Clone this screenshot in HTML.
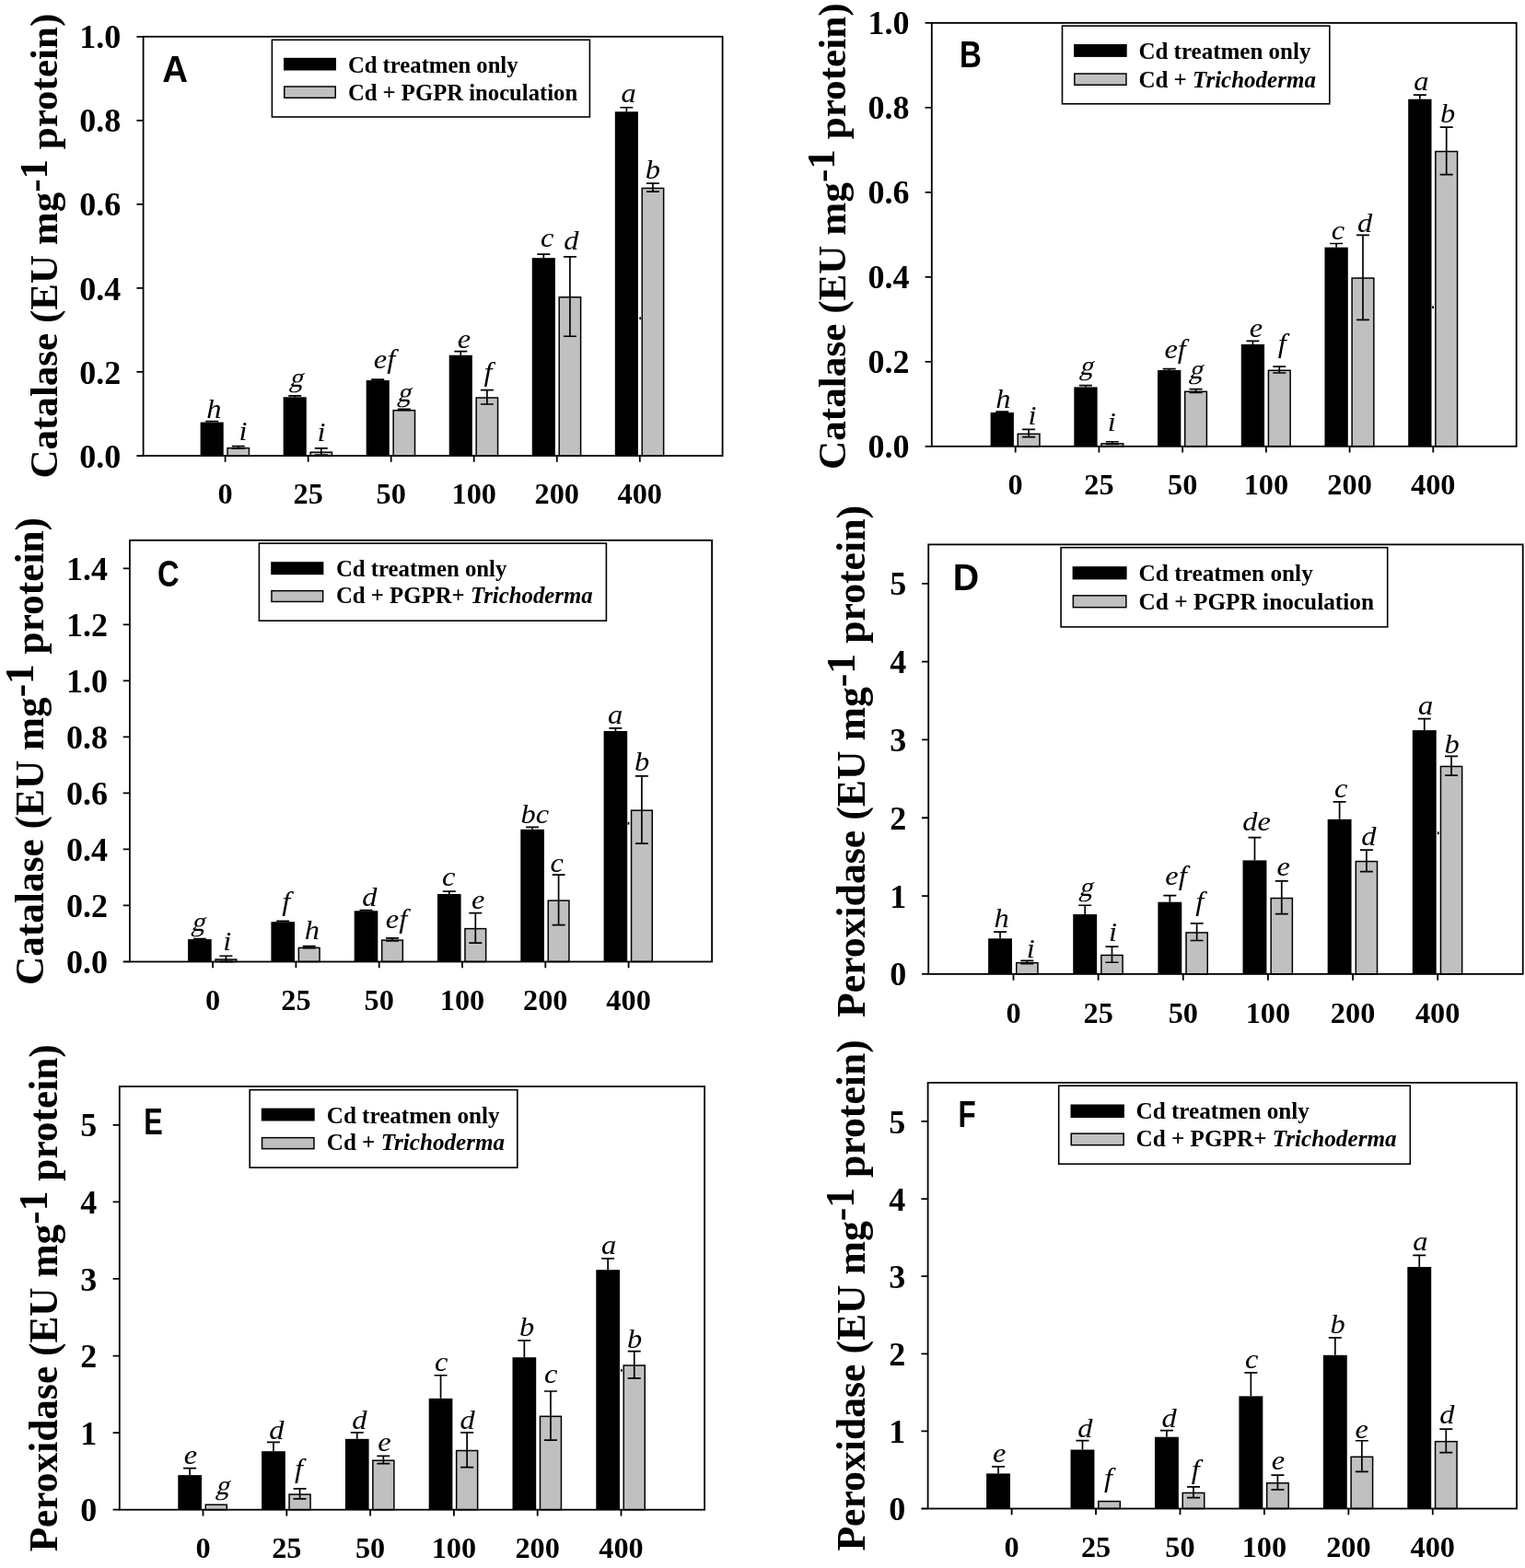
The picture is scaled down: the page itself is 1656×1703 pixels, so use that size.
<!DOCTYPE html>
<html><head><meta charset="utf-8"><title>Catalase and peroxidase activity under Cd treatment</title>
<style>html,body{margin:0;padding:0;background:#fff;overflow:hidden}svg{display:block}</style></head>
<body>
<svg width="1656" height="1703" viewBox="0 0 1656 1703" font-family='"Liberation Serif", "Times New Roman", serif' font-weight="bold" font-size="36.0" fill="#000">
<rect width="1656" height="1703" fill="#fff"/>
<g>
<rect x="217.6" y="458.58" width="25.1" height="36.42"/>
<rect x="247.05" y="486.65" width="23.4" height="8.35" fill="#c0c0c0" stroke="#000" stroke-width="1.5"/>
<rect x="307.64" y="431.27" width="25.1" height="63.73"/>
<rect x="337.09" y="491.2" width="23.4" height="3.8" fill="#c0c0c0" stroke="#000" stroke-width="1.5"/>
<rect x="397.68" y="413.06" width="25.1" height="81.94"/>
<rect x="427.13" y="445.68" width="23.4" height="49.32" fill="#c0c0c0" stroke="#000" stroke-width="1.5"/>
<rect x="487.72" y="385.75" width="25.1" height="109.25"/>
<rect x="517.17" y="432.02" width="23.4" height="62.98" fill="#c0c0c0" stroke="#000" stroke-width="1.5"/>
<rect x="577.76" y="280.15" width="25.1" height="214.85"/>
<rect x="607.21" y="322.77" width="23.4" height="172.23" fill="#c0c0c0" stroke="#000" stroke-width="1.5"/>
<rect x="667.8" y="121.28" width="25.1" height="373.72"/>
<rect x="697.25" y="204.42" width="23.4" height="290.58" fill="#c0c0c0" stroke="#000" stroke-width="1.5"/>
<rect x="694.3" y="344.3" width="1.8" height="2.8"/>
<path d="M230.15 458.58V457.67M223.15 457.67H237.15M258.75 487.26V484.53M251.75 484.53H265.75M251.75 487.26H265.75M320.19 431.27V429.91M313.19 429.91H327.19M348.79 494.09V486.81M341.79 486.81H355.79M341.79 494.09H355.79M410.23 413.06V412.15M403.23 412.15H417.23M438.83 445.38V444.47M431.83 444.47H445.83M431.83 445.38H445.83M500.27 385.75V381.66M493.27 381.66H507.27M528.87 439.01V423.53M521.87 423.53H535.87M521.87 439.01H535.87M590.31 280.15V276.05M583.31 276.05H597.31M618.91 365.27V278.78M611.91 278.78H625.91M611.91 365.27H625.91M680.35 121.28V116.73M673.35 116.73H687.35M708.95 208.22V199.12M701.95 199.12H715.95M701.95 208.22H715.95" stroke="#000" stroke-width="1.7" fill="none"/>
<text transform="translate(224.14 454.13) scale(1.1 1)" font-size="29.5" font-style="italic" font-weight="normal">h</text>
<text transform="translate(313.65 419.57) skewX(-15)" font-size="29.5" font-weight="normal">g</text>
<text transform="translate(405.73 400.38) scale(1.1 1)" font-size="29.5" font-style="italic" font-weight="normal">ef</text>
<text transform="translate(496.85 377.54) scale(1.1 1)" font-size="29.5" font-style="italic" font-weight="normal">e</text>
<text transform="translate(586.94 268.29) scale(1.1 1)" font-size="29.5" font-style="italic" font-weight="normal">c</text>
<text transform="translate(674.45 110.69) scale(1.1 1)" font-size="29.5" font-style="italic" font-weight="normal">a</text>
<text transform="translate(259.57 478.24) scale(1.1 1)" font-size="29.5" font-style="italic" font-weight="normal">i</text>
<text transform="translate(344.62 479.24) scale(1.1 1)" font-size="29.5" font-style="italic" font-weight="normal">i</text>
<text transform="translate(431 436.32) skewX(-15)" font-size="29.5" font-weight="normal">g</text>
<text transform="translate(525.41 414.23) scale(1.1 1)" font-size="29.5" font-style="italic" font-weight="normal">f</text>
<text transform="translate(612.2 270.93) scale(1.1 1)" font-size="29.5" font-style="italic" font-weight="normal">d</text>
<text transform="translate(700.78 194.38) scale(1.1 1)" font-size="29.5" font-style="italic" font-weight="normal">b</text>
<rect x="155.6" y="39.8" width="629" height="455.2" fill="none" stroke="#000" stroke-width="1.8"/>
<path d="M148.4 495H155.6M148.4 403.96H155.6M148.4 312.92H155.6M148.4 221.88H155.6M148.4 130.84H155.6M148.4 39.8H155.6M244.6 495V501.8M334.64 495V501.8M424.68 495V501.8M514.72 495V501.8M604.76 495V501.8M694.8 495V501.8" stroke="#000" stroke-width="1.8" fill="none"/>
<text x="131.37" y="507.59" text-anchor="end">0.0</text>
<text x="131.37" y="416.55" text-anchor="end">0.2</text>
<text x="131.37" y="325.51" text-anchor="end">0.4</text>
<text x="131.37" y="234.47" text-anchor="end">0.6</text>
<text x="131.37" y="143.43" text-anchor="end">0.8</text>
<text x="131.37" y="52.39" text-anchor="end">1.0</text>
<text x="244.6" y="547.2" font-size="32.3" text-anchor="middle">0</text>
<text x="334.64" y="547.2" font-size="32.3" text-anchor="middle">25</text>
<text x="424.68" y="547.2" font-size="32.3" text-anchor="middle">50</text>
<text x="514.72" y="547.2" font-size="32.3" text-anchor="middle">100</text>
<text x="604.76" y="547.2" font-size="32.3" text-anchor="middle">200</text>
<text x="694.8" y="547.2" font-size="32.3" text-anchor="middle">400</text>
<rect x="295.4" y="43.3" width="345" height="83.7" fill="#fff" stroke="#000" stroke-width="1.6"/>
<rect x="308" y="62.8" width="57" height="13.7"/>
<rect x="308.75" y="94.05" width="55.5" height="12.2" fill="#c0c0c0" stroke="#000" stroke-width="1.5"/>
<text x="377.89" y="78.9" font-size="24.7">Cd treatmen only</text>
<text x="377.89" y="108.9" font-size="24.7" xml:space="preserve">Cd + PGPR inoculation</text>
<text transform="translate(176.24 88.5) scale(0.95 1)" font-family='"Liberation Sans", Arial, sans-serif' font-size="40.55">A</text>
<text transform="translate(62.3 519.55) rotate(-90)" font-size="43.04" xml:space="preserve">Catalase (EU mg<tspan dy="-11.41">-1</tspan><tspan dy="11.41"> protein)</tspan></text>
</g>
<g>
<rect x="1075.6" y="448.01" width="25.3" height="36.79"/>
<rect x="1105.25" y="471.29" width="23.7" height="13.51" fill="#c0c0c0" stroke="#000" stroke-width="1.5"/>
<rect x="1166.32" y="420.41" width="25.3" height="64.39"/>
<rect x="1195.97" y="481.87" width="23.7" height="2.93" fill="#c0c0c0" stroke="#000" stroke-width="1.5"/>
<rect x="1257.04" y="402.02" width="25.3" height="82.78"/>
<rect x="1286.69" y="425.3" width="23.7" height="59.5" fill="#c0c0c0" stroke="#000" stroke-width="1.5"/>
<rect x="1347.76" y="373.96" width="25.3" height="110.84"/>
<rect x="1377.41" y="402.31" width="23.7" height="82.49" fill="#c0c0c0" stroke="#000" stroke-width="1.5"/>
<rect x="1438.48" y="268.65" width="25.3" height="216.15"/>
<rect x="1468.13" y="302.05" width="23.7" height="182.75" fill="#c0c0c0" stroke="#000" stroke-width="1.5"/>
<rect x="1529.2" y="107.68" width="25.3" height="377.12"/>
<rect x="1558.85" y="164.54" width="23.7" height="320.26" fill="#c0c0c0" stroke="#000" stroke-width="1.5"/>
<rect x="1555.2" y="332.3" width="1.8" height="2.8"/>
<path d="M1088.25 448.01V447.09M1081.25 447.09H1095.25M1117.1 474.68V466.4M1110.1 466.4H1124.1M1110.1 474.68H1124.1M1178.97 420.41V418.57M1171.97 418.57H1185.97M1207.82 482.5V479.74M1200.82 479.74H1214.82M1200.82 482.5H1214.82M1269.69 402.02V400.64M1262.69 400.64H1276.69M1298.54 426.39V422.71M1291.54 422.71H1305.54M1291.54 426.39H1305.54M1360.41 373.96V370.28M1353.41 370.28H1367.41M1389.26 405.01V398.11M1382.26 398.11H1396.26M1382.26 405.01H1396.26M1451.13 268.65V264.51M1444.13 264.51H1458.13M1479.98 347.29V255.31M1472.98 255.31H1486.98M1472.98 347.29H1486.98M1541.85 107.68V103.08M1534.85 103.08H1548.85M1570.7 189.54V138.04M1563.7 138.04H1577.7M1563.7 189.54H1577.7" stroke="#000" stroke-width="1.7" fill="none"/>
<text transform="translate(1081.19 443.18) scale(1.1 1)" font-size="29.5" font-style="italic" font-weight="normal">h</text>
<text transform="translate(1171.85 407.23) skewX(-15)" font-size="29.5" font-weight="normal">g</text>
<text transform="translate(1264.38 389.18) scale(1.1 1)" font-size="29.5" font-style="italic" font-weight="normal">ef</text>
<text transform="translate(1356.85 365.69) scale(1.1 1)" font-size="29.5" font-style="italic" font-weight="normal">e</text>
<text transform="translate(1445.64 259.79) scale(1.1 1)" font-size="29.5" font-style="italic" font-weight="normal">c</text>
<text transform="translate(1535.25 97.69) scale(1.1 1)" font-size="29.5" font-style="italic" font-weight="normal">a</text>
<text transform="translate(1116.42 461.24) scale(1.1 1)" font-size="29.5" font-style="italic" font-weight="normal">i</text>
<text transform="translate(1202.77 468.24) scale(1.1 1)" font-size="29.5" font-style="italic" font-weight="normal">i</text>
<text transform="translate(1290.7 411.18) skewX(-15)" font-size="29.5" font-weight="normal">g</text>
<text transform="translate(1387.66 383.48) scale(1.1 1)" font-size="29.5" font-style="italic" font-weight="normal">f</text>
<text transform="translate(1474.05 251.73) scale(1.1 1)" font-size="29.5" font-style="italic" font-weight="normal">d</text>
<text transform="translate(1564.03 133.13) scale(1.1 1)" font-size="29.5" font-style="italic" font-weight="normal">b</text>
<rect x="1011.8" y="24.9" width="634.9" height="459.9" fill="none" stroke="#000" stroke-width="1.8"/>
<path d="M1004.6 484.8H1011.8M1004.6 392.82H1011.8M1004.6 300.84H1011.8M1004.6 208.86H1011.8M1004.6 116.88H1011.8M1004.6 24.9H1011.8M1102.7 484.8V491.6M1193.42 484.8V491.6M1284.14 484.8V491.6M1374.86 484.8V491.6M1465.58 484.8V491.6M1556.3 484.8V491.6" stroke="#000" stroke-width="1.8" fill="none"/>
<text x="987.47" y="497.39" text-anchor="end">0.0</text>
<text x="987.47" y="405.41" text-anchor="end">0.2</text>
<text x="987.47" y="313.43" text-anchor="end">0.4</text>
<text x="987.47" y="221.45" text-anchor="end">0.6</text>
<text x="987.47" y="129.47" text-anchor="end">0.8</text>
<text x="987.47" y="37.49" text-anchor="end">1.0</text>
<text x="1102.7" y="537" font-size="32.3" text-anchor="middle">0</text>
<text x="1193.42" y="537" font-size="32.3" text-anchor="middle">25</text>
<text x="1284.14" y="537" font-size="32.3" text-anchor="middle">50</text>
<text x="1374.86" y="537" font-size="32.3" text-anchor="middle">100</text>
<text x="1465.58" y="537" font-size="32.3" text-anchor="middle">200</text>
<text x="1556.3" y="537" font-size="32.3" text-anchor="middle">400</text>
<rect x="1153.5" y="28.1" width="290.3" height="84.7" fill="#fff" stroke="#000" stroke-width="1.6"/>
<rect x="1166.1" y="48" width="57.6" height="13.9"/>
<rect x="1166.85" y="80.05" width="56.1" height="12.2" fill="#c0c0c0" stroke="#000" stroke-width="1.5"/>
<text x="1236.38" y="63.9" font-size="25.0">Cd treatmen only</text>
<text x="1236.38" y="94.8" font-size="25.0" xml:space="preserve">Cd + <tspan font-style="italic">Trichoderma</tspan></text>
<text transform="translate(1041.98 72.6) scale(0.82 1)" font-family='"Liberation Sans", Arial, sans-serif' font-size="40.41">B</text>
<text transform="translate(917.5 509.96) rotate(-90)" font-size="43.2" xml:space="preserve">Catalase (EU mg<tspan dy="-11.45">-1</tspan><tspan dy="11.45"> protein)</tspan></text>
</g>
<g>
<rect x="204.1" y="1020.09" width="25.6" height="24.41"/>
<rect x="234.05" y="1042.05" width="22.7" height="2.45" fill="#c0c0c0" stroke="#000" stroke-width="1.5"/>
<rect x="294.4" y="1001.17" width="25.6" height="43.33"/>
<rect x="324.35" y="1029.38" width="22.7" height="15.12" fill="#c0c0c0" stroke="#000" stroke-width="1.5"/>
<rect x="384.7" y="989.27" width="25.6" height="55.23"/>
<rect x="414.65" y="1021.14" width="22.7" height="23.36" fill="#c0c0c0" stroke="#000" stroke-width="1.5"/>
<rect x="475" y="970.96" width="25.6" height="73.54"/>
<rect x="504.95" y="1008.63" width="22.7" height="35.87" fill="#c0c0c0" stroke="#000" stroke-width="1.5"/>
<rect x="565.3" y="900.78" width="25.6" height="143.72"/>
<rect x="595.25" y="978.12" width="22.7" height="66.38" fill="#c0c0c0" stroke="#000" stroke-width="1.5"/>
<rect x="655.6" y="793.99" width="25.6" height="250.51"/>
<rect x="685.55" y="880.17" width="22.7" height="164.33" fill="#c0c0c0" stroke="#000" stroke-width="1.5"/>
<rect x="681.6" y="892.8" width="1.8" height="2.8"/>
<path d="M216.9 1020.09V1019.48M209.9 1019.48H223.9M245.4 1044.35V1038.24M238.4 1038.24H252.4M238.4 1044.35H252.4M307.2 1001.17V1000.26M300.2 1000.26H314.2M335.7 1029.55V1027.72M328.7 1027.72H342.7M328.7 1029.55H342.7M397.5 989.27V988.66M390.5 988.66H404.5M426 1021.92V1018.87M419 1018.87H433M419 1021.92H433M487.8 970.96V968.22M480.8 968.22H494.8M516.3 1024.06V991.71M509.3 991.71H523.3M509.3 1024.06H523.3M578.1 900.78V898.34M571.1 898.34H585.1M606.6 1004.53V950.21M599.6 950.21H613.6M599.6 1004.53H613.6M668.4 793.99V790.93M661.4 790.93H675.4M696.9 916.04V842.81M689.9 842.81H703.9M689.9 916.04H703.9" stroke="#000" stroke-width="1.7" fill="none"/>
<text transform="translate(207.3 1011.02) skewX(-15)" font-size="29.5" font-weight="normal">g</text>
<text transform="translate(306.26 989.28) scale(1.1 1)" font-size="29.5" font-style="italic" font-weight="normal">f</text>
<text transform="translate(393.25 983.53) scale(1.1 1)" font-size="29.5" font-style="italic" font-weight="normal">d</text>
<text transform="translate(480.04 962.49) scale(1.1 1)" font-size="29.5" font-style="italic" font-weight="normal">c</text>
<text transform="translate(565.56 894.13) scale(1.1 1)" font-size="29.5" font-style="italic" font-weight="normal">bc</text>
<text transform="translate(660 786.38) scale(1.1 1)" font-size="29.5" font-style="italic" font-weight="normal">a</text>
<text transform="translate(242.22 1032.44) scale(1.1 1)" font-size="29.5" font-style="italic" font-weight="normal">i</text>
<text transform="translate(330.69 1020.03) scale(1.1 1)" font-size="29.5" font-style="italic" font-weight="normal">h</text>
<text transform="translate(418.78 1007.73) scale(1.1 1)" font-size="29.5" font-style="italic" font-weight="normal">ef</text>
<text transform="translate(512.05 987.49) scale(1.1 1)" font-size="29.5" font-style="italic" font-weight="normal">e</text>
<text transform="translate(597.49 946.78) scale(1.1 1)" font-size="29.5" font-style="italic" font-weight="normal">c</text>
<text transform="translate(688.98 836.98) scale(1.1 1)" font-size="29.5" font-style="italic" font-weight="normal">b</text>
<rect x="140.9" y="586.8" width="632.2" height="457.7" fill="none" stroke="#000" stroke-width="1.8"/>
<path d="M133.7 1044.5H140.9M133.7 983.47H140.9M133.7 922.45H140.9M133.7 861.42H140.9M133.7 800.39H140.9M133.7 739.37H140.9M133.7 678.34H140.9M133.7 617.31H140.9M231.1 1044.5V1051.3M321.4 1044.5V1051.3M411.7 1044.5V1051.3M502 1044.5V1051.3M592.3 1044.5V1051.3M682.6 1044.5V1051.3" stroke="#000" stroke-width="1.8" fill="none"/>
<text x="116.97" y="1057.09" text-anchor="end">0.0</text>
<text x="116.97" y="996.07" text-anchor="end">0.2</text>
<text x="116.97" y="935.04" text-anchor="end">0.4</text>
<text x="116.97" y="874.01" text-anchor="end">0.6</text>
<text x="116.97" y="812.99" text-anchor="end">0.8</text>
<text x="116.97" y="751.96" text-anchor="end">1.0</text>
<text x="116.97" y="690.93" text-anchor="end">1.2</text>
<text x="116.97" y="629.91" text-anchor="end">1.4</text>
<text x="231.1" y="1097" font-size="32.3" text-anchor="middle">0</text>
<text x="321.4" y="1097" font-size="32.3" text-anchor="middle">25</text>
<text x="411.7" y="1097" font-size="32.3" text-anchor="middle">50</text>
<text x="502" y="1097" font-size="32.3" text-anchor="middle">100</text>
<text x="592.3" y="1097" font-size="32.3" text-anchor="middle">200</text>
<text x="682.6" y="1097" font-size="32.3" text-anchor="middle">400</text>
<rect x="281.4" y="590.1" width="377" height="84.1" fill="#fff" stroke="#000" stroke-width="1.6"/>
<rect x="294.2" y="610.2" width="57.2" height="14"/>
<rect x="294.95" y="641.65" width="55.7" height="11.8" fill="#c0c0c0" stroke="#000" stroke-width="1.5"/>
<text x="364.88" y="625.7" font-size="24.8">Cd treatmen only</text>
<text x="364.88" y="655.4" font-size="24.8" xml:space="preserve">Cd + PGPR+ <tspan font-style="italic">Trichoderma</tspan></text>
<text transform="translate(171.06 637.09) scale(0.8 1)" font-family='"Liberation Sans", Arial, sans-serif' font-size="40.82">C</text>
<text transform="translate(47.2 1069.96) rotate(-90)" font-size="43.3" xml:space="preserve">Catalase (EU mg<tspan dy="-11.47">-1</tspan><tspan dy="11.47"> protein)</tspan></text>
</g>
<g>
<rect x="1073.1" y="1019.31" width="25.9" height="38.59"/>
<rect x="1103.75" y="1045.67" width="23.2" height="12.23" fill="#c0c0c0" stroke="#000" stroke-width="1.5"/>
<rect x="1165.24" y="993.01" width="25.9" height="64.89"/>
<rect x="1195.89" y="1037.45" width="23.2" height="20.45" fill="#c0c0c0" stroke="#000" stroke-width="1.5"/>
<rect x="1257.38" y="979.7" width="25.9" height="78.2"/>
<rect x="1288.03" y="1012.93" width="23.2" height="44.97" fill="#c0c0c0" stroke="#000" stroke-width="1.5"/>
<rect x="1349.52" y="934.4" width="25.9" height="123.5"/>
<rect x="1380.17" y="975.53" width="23.2" height="82.37" fill="#c0c0c0" stroke="#000" stroke-width="1.5"/>
<rect x="1441.66" y="889.79" width="25.9" height="168.11"/>
<rect x="1472.31" y="935.58" width="23.2" height="122.32" fill="#c0c0c0" stroke="#000" stroke-width="1.5"/>
<rect x="1533.8" y="793.1" width="25.9" height="264.8"/>
<rect x="1564.45" y="832.44" width="23.2" height="225.46" fill="#c0c0c0" stroke="#000" stroke-width="1.5"/>
<rect x="1560.8" y="903.4" width="1.8" height="2.8"/>
<path d="M1086.05 1019.31V1012.18M1079.05 1012.18H1093.05M1115.35 1046.53V1043.31M1108.35 1043.31H1122.35M1108.35 1046.53H1122.35M1178.19 993.01V983.26M1171.19 983.26H1185.19M1207.49 1045.26V1028.13M1200.49 1028.13H1214.49M1200.49 1045.26H1214.49M1270.33 979.7V972.66M1263.33 972.66H1277.33M1299.63 1021.51V1002.85M1292.63 1002.85H1306.63M1292.63 1021.51H1306.63M1362.47 934.4V909.64M1355.47 909.64H1369.47M1391.77 992.59V956.97M1384.77 956.97H1398.77M1384.77 992.59H1398.77M1454.61 889.79V870.88M1447.61 870.88H1461.61M1483.91 946.62V923.04M1476.91 923.04H1490.91M1476.91 946.62H1490.91M1546.75 793.1V780.54M1539.75 780.54H1553.75M1576.05 842.04V821.34M1569.05 821.34H1583.05M1569.05 842.04H1583.05" stroke="#000" stroke-width="1.7" fill="none"/>
<text transform="translate(1079.39 1006.68) scale(1.1 1)" font-size="29.5" font-style="italic" font-weight="normal">h</text>
<text transform="translate(1171.25 973.27) skewX(-15)" font-size="29.5" font-weight="normal">g</text>
<text transform="translate(1265.33 961.42) scale(1.1 1)" font-size="29.5" font-style="italic" font-weight="normal">ef</text>
<text transform="translate(1349.24 902.48) scale(1.1 1)" font-size="29.5" font-style="italic" font-weight="normal">de</text>
<text transform="translate(1448.89 866.08) scale(1.1 1)" font-size="29.5" font-style="italic" font-weight="normal">c</text>
<text transform="translate(1539.95 776.38) scale(1.1 1)" font-size="29.5" font-style="italic" font-weight="normal">a</text>
<text transform="translate(1114.87 1039.89) scale(1.1 1)" font-size="29.5" font-style="italic" font-weight="normal">i</text>
<text transform="translate(1203.92 1022.04) scale(1.1 1)" font-size="29.5" font-style="italic" font-weight="normal">i</text>
<text transform="translate(1298.31 989.23) scale(1.1 1)" font-size="29.5" font-style="italic" font-weight="normal">f</text>
<text transform="translate(1386.45 951.03) scale(1.1 1)" font-size="29.5" font-style="italic" font-weight="normal">e</text>
<text transform="translate(1478.2 918.33) scale(1.1 1)" font-size="29.5" font-style="italic" font-weight="normal">d</text>
<text transform="translate(1568.58 817.73) scale(1.1 1)" font-size="29.5" font-style="italic" font-weight="normal">b</text>
<rect x="1008.2" y="591.4" width="645.5" height="466.5" fill="none" stroke="#000" stroke-width="1.8"/>
<path d="M1001 1057.9H1008.2M1001 973.08H1008.2M1001 888.26H1008.2M1001 803.45H1008.2M1001 718.63H1008.2M1001 633.81H1008.2M1100.5 1057.9V1064.7M1192.64 1057.9V1064.7M1284.78 1057.9V1064.7M1376.92 1057.9V1064.7M1469.06 1057.9V1064.7M1561.2 1057.9V1064.7" stroke="#000" stroke-width="1.8" fill="none"/>
<text x="984.37" y="1070.49" text-anchor="end">0</text>
<text x="984.37" y="985.68" text-anchor="end">1</text>
<text x="984.37" y="900.86" text-anchor="end">2</text>
<text x="984.37" y="816.04" text-anchor="end">3</text>
<text x="984.37" y="731.22" text-anchor="end">4</text>
<text x="984.37" y="646.4" text-anchor="end">5</text>
<text x="1100.5" y="1111" font-size="32.3" text-anchor="middle">0</text>
<text x="1192.64" y="1111" font-size="32.3" text-anchor="middle">25</text>
<text x="1284.78" y="1111" font-size="32.3" text-anchor="middle">50</text>
<text x="1376.92" y="1111" font-size="32.3" text-anchor="middle">100</text>
<text x="1469.06" y="1111" font-size="32.3" text-anchor="middle">200</text>
<text x="1561.2" y="1111" font-size="32.3" text-anchor="middle">400</text>
<rect x="1152.1" y="594.7" width="354.6" height="86.2" fill="#fff" stroke="#000" stroke-width="1.6"/>
<rect x="1164.6" y="615.2" width="59" height="14.2"/>
<rect x="1165.35" y="646.85" width="57.5" height="12.8" fill="#c0c0c0" stroke="#000" stroke-width="1.5"/>
<text x="1236.56" y="630.7" font-size="25.3">Cd treatmen only</text>
<text x="1236.56" y="661.6" font-size="25.3" xml:space="preserve">Cd + PGPR inoculation</text>
<text transform="translate(1034.76 640.6) scale(0.96 1)" font-family='"Liberation Sans", Arial, sans-serif' font-size="40.99">D</text>
<text transform="translate(939.3 1105.08) rotate(-90)" font-size="43.75" xml:space="preserve">Peroxidase (EU mg<tspan dy="-11.6">-1</tspan><tspan dy="11.6"> protein)</tspan></text>
</g>
<g>
<rect x="193.3" y="1602.09" width="25.7" height="37.61"/>
<rect x="223.25" y="1634.26" width="23" height="5.44" fill="#c0c0c0" stroke="#000" stroke-width="1.5"/>
<rect x="284.1" y="1576.18" width="25.7" height="63.52"/>
<rect x="314.05" y="1623.06" width="23" height="16.64" fill="#c0c0c0" stroke="#000" stroke-width="1.5"/>
<rect x="374.9" y="1562.8" width="25.7" height="76.9"/>
<rect x="404.85" y="1586.21" width="23" height="53.49" fill="#c0c0c0" stroke="#000" stroke-width="1.5"/>
<rect x="465.7" y="1518.84" width="25.7" height="120.86"/>
<rect x="495.65" y="1575.51" width="23" height="64.19" fill="#c0c0c0" stroke="#000" stroke-width="1.5"/>
<rect x="556.5" y="1474.21" width="25.7" height="165.49"/>
<rect x="586.45" y="1538.31" width="23" height="101.39" fill="#c0c0c0" stroke="#000" stroke-width="1.5"/>
<rect x="647.3" y="1379.18" width="25.7" height="260.52"/>
<rect x="677.25" y="1482.98" width="23" height="156.72" fill="#c0c0c0" stroke="#000" stroke-width="1.5"/>
<rect x="673.9" y="1486.9" width="1.8" height="2.8"/>
<path d="M206.15 1602.09V1594.57M199.15 1594.57H213.15M296.95 1576.18V1566.32M289.95 1566.32H303.95M325.55 1627.83V1616.8M318.55 1616.8H332.55M318.55 1627.83H332.55M387.75 1562.8V1555.87M380.75 1555.87H394.75M416.35 1589.63V1581.28M409.35 1581.28H423.35M409.35 1589.63H423.35M478.55 1518.84V1493.77M471.55 1493.77H485.55M507.15 1593.56V1555.95M500.15 1555.95H514.15M500.15 1593.56H514.15M569.35 1474.21V1455.82M562.35 1455.82H576.35M597.95 1564.14V1510.98M590.95 1510.98H604.95M590.95 1564.14H604.95M660.15 1379.18V1366.97M653.15 1366.97H667.15M688.75 1496.78V1467.69M681.75 1467.69H695.75M681.75 1496.78H695.75" stroke="#000" stroke-width="1.7" fill="none"/>
<text transform="translate(199.8 1589.84) scale(1.1 1)" font-size="29.5" font-style="italic" font-weight="normal">e</text>
<text transform="translate(292.3 1562.88) scale(1.1 1)" font-size="29.5" font-style="italic" font-weight="normal">d</text>
<text transform="translate(382.2 1551.63) scale(1.1 1)" font-size="29.5" font-style="italic" font-weight="normal">d</text>
<text transform="translate(471.89 1488.69) scale(1.1 1)" font-size="29.5" font-style="italic" font-weight="normal">c</text>
<text transform="translate(564.03 1450.93) scale(1.1 1)" font-size="29.5" font-style="italic" font-weight="normal">b</text>
<text transform="translate(652.9 1361.88) scale(1.1 1)" font-size="29.5" font-style="italic" font-weight="normal">a</text>
<text transform="translate(233.7 1623.22) skewX(-15)" font-size="29.5" font-weight="normal">g</text>
<text transform="translate(320.01 1605.42) scale(1.1 1)" font-size="29.5" font-style="italic" font-weight="normal">f</text>
<text transform="translate(410.35 1576.38) scale(1.1 1)" font-size="29.5" font-style="italic" font-weight="normal">e</text>
<text transform="translate(499.45 1551.83) scale(1.1 1)" font-size="29.5" font-style="italic" font-weight="normal">d</text>
<text transform="translate(590.94 1502.29) scale(1.1 1)" font-size="29.5" font-style="italic" font-weight="normal">c</text>
<text transform="translate(680.98 1463.93) scale(1.1 1)" font-size="29.5" font-style="italic" font-weight="normal">b</text>
<rect x="129.8" y="1180" width="635.3" height="459.7" fill="none" stroke="#000" stroke-width="1.8"/>
<path d="M122.6 1639.7H129.8M122.6 1556.12H129.8M122.6 1472.54H129.8M122.6 1388.95H129.8M122.6 1305.37H129.8M122.6 1221.79H129.8M220.5 1639.7V1646.5M311.3 1639.7V1646.5M402.1 1639.7V1646.5M492.9 1639.7V1646.5M583.7 1639.7V1646.5M674.5 1639.7V1646.5" stroke="#000" stroke-width="1.8" fill="none"/>
<text x="105.37" y="1652.29" text-anchor="end">0</text>
<text x="105.37" y="1568.71" text-anchor="end">1</text>
<text x="105.37" y="1485.13" text-anchor="end">2</text>
<text x="105.37" y="1401.55" text-anchor="end">3</text>
<text x="105.37" y="1317.97" text-anchor="end">4</text>
<text x="105.37" y="1234.38" text-anchor="end">5</text>
<text x="220.5" y="1692" font-size="32.3" text-anchor="middle">0</text>
<text x="311.3" y="1692" font-size="32.3" text-anchor="middle">25</text>
<text x="402.1" y="1692" font-size="32.3" text-anchor="middle">50</text>
<text x="492.9" y="1692" font-size="32.3" text-anchor="middle">100</text>
<text x="583.7" y="1692" font-size="32.3" text-anchor="middle">200</text>
<text x="674.5" y="1692" font-size="32.3" text-anchor="middle">400</text>
<rect x="271.2" y="1183.7" width="290.6" height="84.4" fill="#fff" stroke="#000" stroke-width="1.6"/>
<rect x="283.8" y="1203.6" width="57.9" height="13.9"/>
<rect x="284.55" y="1235.65" width="56.4" height="12" fill="#c0c0c0" stroke="#000" stroke-width="1.5"/>
<text x="354.77" y="1219.6" font-size="25.1">Cd treatmen only</text>
<text x="354.77" y="1249.2" font-size="25.1" xml:space="preserve">Cd + <tspan font-style="italic">Trichoderma</tspan></text>
<text transform="translate(156.35 1231.7) scale(0.75 1)" font-family='"Liberation Sans", Arial, sans-serif' font-size="40.99">E</text>
<text transform="translate(62.3 1685.37) rotate(-90)" font-size="43.36" xml:space="preserve">Peroxidase (EU mg<tspan dy="-11.49">-1</tspan><tspan dy="11.49"> protein)</tspan></text>
</g>
<g>
<rect x="1071.1" y="1600.4" width="25.9" height="38.1"/>
<rect x="1162.54" y="1574.49" width="25.9" height="64.01"/>
<rect x="1192.79" y="1630.59" width="23.5" height="7.91" fill="#c0c0c0" stroke="#000" stroke-width="1.5"/>
<rect x="1253.98" y="1560.7" width="25.9" height="77.8"/>
<rect x="1284.23" y="1621.42" width="23.5" height="17.08" fill="#c0c0c0" stroke="#000" stroke-width="1.5"/>
<rect x="1345.42" y="1516.37" width="25.9" height="122.13"/>
<rect x="1375.67" y="1610.74" width="23.5" height="27.76" fill="#c0c0c0" stroke="#000" stroke-width="1.5"/>
<rect x="1436.86" y="1471.8" width="25.9" height="166.7"/>
<rect x="1467.11" y="1582.31" width="23.5" height="56.19" fill="#c0c0c0" stroke="#000" stroke-width="1.5"/>
<rect x="1528.3" y="1376" width="25.9" height="262.5"/>
<rect x="1558.55" y="1565.65" width="23.5" height="72.85" fill="#c0c0c0" stroke="#000" stroke-width="1.5"/>
<path d="M1084.05 1600.4V1592.91M1077.05 1592.91H1091.05M1175.49 1574.49V1564.57M1168.49 1564.57H1182.49M1266.93 1560.7V1553.63M1259.93 1553.63H1273.93M1295.98 1626.56V1614.78M1288.98 1614.78H1302.98M1288.98 1626.56H1302.98M1358.37 1516.37V1490.89M1351.37 1490.89H1365.37M1387.42 1617.89V1602.08M1380.42 1602.08H1394.42M1380.42 1617.89H1394.42M1449.81 1471.8V1452.87M1442.81 1452.87H1456.81M1478.86 1598.38V1564.74M1471.86 1564.74H1485.86M1471.86 1598.38H1485.86M1541.25 1376V1363.46M1534.25 1363.46H1548.25M1570.3 1577.69V1552.12M1563.3 1552.12H1577.3M1563.3 1577.69H1577.3" stroke="#000" stroke-width="1.7" fill="none"/>
<text transform="translate(1078.05 1588.29) scale(1.1 1)" font-size="29.5" font-style="italic" font-weight="normal">e</text>
<text transform="translate(1170.35 1560.93) scale(1.1 1)" font-size="29.5" font-style="italic" font-weight="normal">d</text>
<text transform="translate(1261.4 1549.53) scale(1.1 1)" font-size="29.5" font-style="italic" font-weight="normal">d</text>
<text transform="translate(1351.94 1485.73) scale(1.1 1)" font-size="29.5" font-style="italic" font-weight="normal">c</text>
<text transform="translate(1444.53 1447.98) scale(1.1 1)" font-size="29.5" font-style="italic" font-weight="normal">b</text>
<text transform="translate(1534.25 1358.48) scale(1.1 1)" font-size="29.5" font-style="italic" font-weight="normal">a</text>
<text transform="translate(1198.91 1615.33) scale(1.1 1)" font-size="29.5" font-style="italic" font-weight="normal">f</text>
<text transform="translate(1293.71 1605.57) scale(1.1 1)" font-size="29.5" font-style="italic" font-weight="normal">f</text>
<text transform="translate(1380.75 1596.04) scale(1.1 1)" font-size="29.5" font-style="italic" font-weight="normal">e</text>
<text transform="translate(1471.45 1561.54) scale(1.1 1)" font-size="29.5" font-style="italic" font-weight="normal">e</text>
<text transform="translate(1563.15 1545.63) scale(1.1 1)" font-size="29.5" font-style="italic" font-weight="normal">d</text>
<rect x="1007.6" y="1175.9" width="639.4" height="462.6" fill="none" stroke="#000" stroke-width="1.8"/>
<path d="M1000.4 1638.5H1007.6M1000.4 1554.39H1007.6M1000.4 1470.28H1007.6M1000.4 1386.17H1007.6M1000.4 1302.06H1007.6M1000.4 1217.95H1007.6M1098.6 1638.5V1645.3M1190.04 1638.5V1645.3M1281.48 1638.5V1645.3M1372.92 1638.5V1645.3M1464.36 1638.5V1645.3M1555.8 1638.5V1645.3" stroke="#000" stroke-width="1.8" fill="none"/>
<text x="983.37" y="1651.09" text-anchor="end">0</text>
<text x="983.37" y="1566.98" text-anchor="end">1</text>
<text x="983.37" y="1482.88" text-anchor="end">2</text>
<text x="983.37" y="1398.77" text-anchor="end">3</text>
<text x="983.37" y="1314.66" text-anchor="end">4</text>
<text x="983.37" y="1230.55" text-anchor="end">5</text>
<text x="1098.6" y="1691.2" font-size="32.3" text-anchor="middle">0</text>
<text x="1190.04" y="1691.2" font-size="32.3" text-anchor="middle">25</text>
<text x="1281.48" y="1691.2" font-size="32.3" text-anchor="middle">50</text>
<text x="1372.92" y="1691.2" font-size="32.3" text-anchor="middle">100</text>
<text x="1464.36" y="1691.2" font-size="32.3" text-anchor="middle">200</text>
<text x="1555.8" y="1691.2" font-size="32.3" text-anchor="middle">400</text>
<rect x="1149.7" y="1179.2" width="381.6" height="85" fill="#fff" stroke="#000" stroke-width="1.6"/>
<rect x="1162.5" y="1199.5" width="58.4" height="14.5"/>
<rect x="1163.25" y="1231.15" width="56.9" height="12.5" fill="#c0c0c0" stroke="#000" stroke-width="1.5"/>
<text x="1233.47" y="1215" font-size="25.2">Cd treatmen only</text>
<text x="1233.47" y="1245.4" font-size="25.2" xml:space="preserve">Cd + PGPR+ <tspan font-style="italic">Trichoderma</tspan></text>
<text transform="translate(1040.4 1223.6) scale(0.77 1)" font-family='"Liberation Sans", Arial, sans-serif' font-size="40.84">F</text>
<text transform="translate(939 1684.57) rotate(-90)" font-size="43.69" xml:space="preserve">Peroxidase (EU mg<tspan dy="-11.58">-1</tspan><tspan dy="11.58"> protein)</tspan></text>
</g>
</svg>
</body></html>
